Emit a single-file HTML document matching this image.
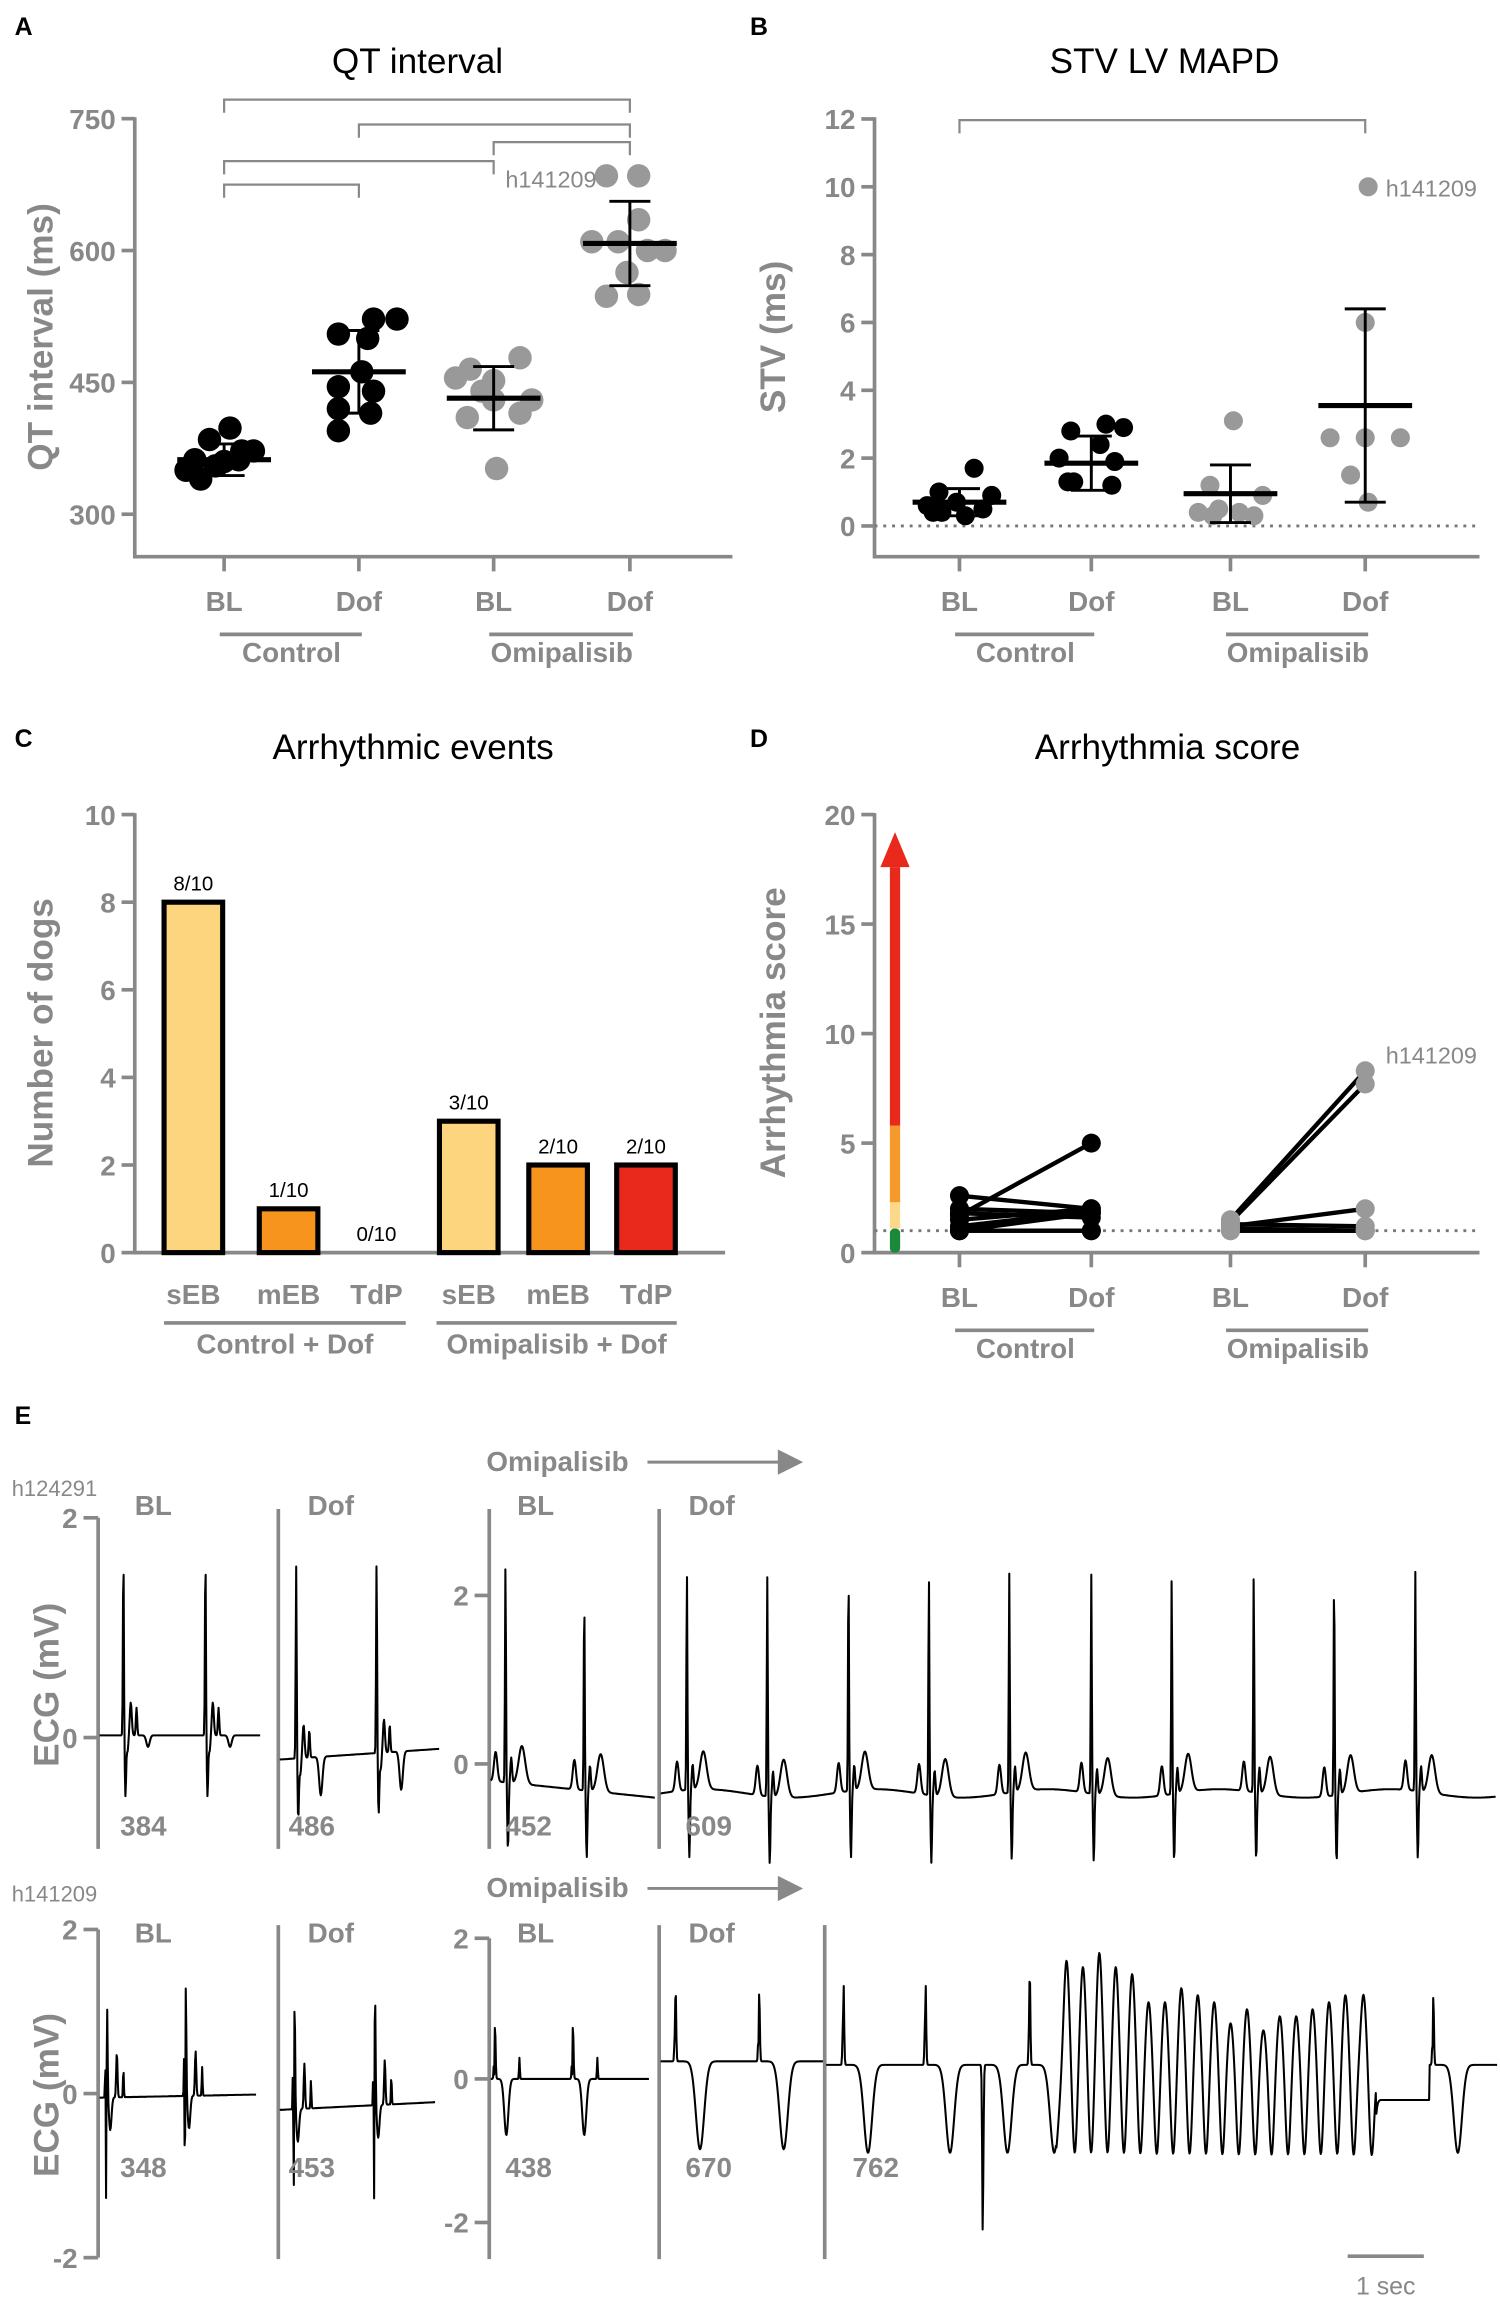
<!DOCTYPE html>
<html><head><meta charset="utf-8"><style>
html,body{margin:0;padding:0;background:#fff}
svg{display:block}
text{font-family:"Liberation Sans",Arial,sans-serif}
.tk{fill:#888;font-weight:bold;font-size:19px}
.ax{stroke:#888;stroke-width:2.5;fill:none}
.yl{fill:#888;font-weight:bold;font-size:24px}
.tt{fill:#000;font-size:24px}
.pl{fill:#000;font-weight:bold;font-size:17px}
</style></head><body>
<svg id="fig" width="1500" height="2306" viewBox="0 0 1024 1574" preserveAspectRatio="none" xmlns="http://www.w3.org/2000/svg">
<g>
<text class="pl" x="10" y="24">A</text><text class="pl" x="512" y="24">B</text>
<text class="pl" x="10" y="510">C</text><text class="pl" x="512" y="510">D</text>
<text class="pl" x="10" y="972">E</text>
</g>
<text class="tt" x="285" y="50" text-anchor="middle">QT interval</text>
<text class="tt" x="795" y="50" text-anchor="middle">STV LV MAPD</text>
<text class="tt" x="282" y="518" text-anchor="middle">Arrhythmic events</text>
<text class="tt" x="797" y="518" text-anchor="middle">Arrhythmia score</text>
<text class="yl" transform="translate(36,230) rotate(-90)" text-anchor="middle">QT interval (ms)</text>
<text class="yl" transform="translate(536,230) rotate(-90)" text-anchor="middle">STV (ms)</text>
<text class="yl" transform="translate(36,705) rotate(-90)" text-anchor="middle">Number of dogs</text>
<text class="yl" transform="translate(536,705) rotate(-90)" text-anchor="middle">Arrhythmia score</text>
<g id="A"></g>
<g id="B"></g>
<g id="C"></g>
<g id="D"></g>
<g id="E"></g>
</svg>
<script>
// ---- data ----
const groupTicks=['BL','Dof','BL','Dof'];
const groupNames=['Control','Omipalisib'];
const qtTicks=[300,450,600,750];
const qtCtrlBL=[398,385,372,362,362,355,372,350,340,360];
const qtCtrlDof=[522,522,505,500,462,445,440,420,415,395];
const qtOmiBL=[478,465,452,455,440,430,430,415,410,352];
const qtOmiDof=[685,685,635,610,610,600,600,575,548,550];
const qtMean=[362,462,432,608];
const qtSD=[18,47,36,48];
const stvTicks=[0,2,4,6,8,10,12];
const stvCtrlBL=[1.7,1.0,0.9,0.7,0.6,0.5,0.4,0.3,0.4];
const stvCtrlDof=[3.0,2.8,2.9,2.4,2.0,1.9,1.3,1.2,1.3];
const stvOmiBL=[3.1,1.2,0.9,0.5,0.4,0.3,0.3,0.4];
const stvOmiDof=[10,6.0,2.6,2.6,2.6,1.5,0.7];
const stvMean=[0.7,1.85,0.95,3.55];
const stvSD=[0.4,0.8,0.85,2.85];
const evTicks=[0,2,4,6,8,10];
const evCats=['sEB','mEB','TdP','sEB','mEB','TdP'];
const evValues=[8,1,0,3,2,2];
const evLabels=['8/10','1/10','0/10','3/10','2/10','2/10'];
const scTicks=[0,5,10,15,20];
const scCtrlBL=[2.6,2.0,1.7,1.5,1.2,1.0,1.0,1.0,1.8];
const scCtrlDof=[2.0,1.8,5.0,2.0,1.9,1.0,1.0,1.8,1.6];
const scOmiBL=[1.5,1.4,1.2,1.0,1.0,1.3,1.1];
const scOmiDof=[8.3,7.7,2.0,1.0,1.0,1.2,1.0];
// ECG beat times (s) and R amplitudes (mV)
const e1p1T=[0.29,1.29], e1p1R=[1.65,1.65];
const e1p2T=[0.2,1.18], e1p2R=[1.75,1.75];
const e1p3T=[0.18,1.14], e1p3R=[2.6,2.3];
const e1p4T=[0.32,1.30,2.29,3.27,4.25,5.25,6.23,7.23,8.21,9.2], e1p4R=[2.6,2.6,2.6,2.6,2.6,2.6,2.6,2.6,2.6,2.6];
const e2p1T=[0.09,1.05], e2p1R=[1.2,1.4];
const e2p2T=[0.18,1.16], e2p2R=[1.4,1.5];
const e2p3T=[0.05,1.0], e2p3R=[0.9,0.9];
const e2p4T=[0.18,1.2], e2p4R=[1.2,1.1];
const e2p5T=[0.21,1.21,2.48,7.4], e2p5R=[1.3,1.3,1.5,1.1];
const vtT=[2.93,3.13,3.33,3.53,3.73,3.93,4.13,4.33,4.53,4.73,4.93,5.13,5.33,5.53,5.73,5.93,6.13,6.33,6.55];
const vtR=[1.6,1.5,1.7,1.5,1.4,1.0,1.0,1.2,1.1,1.0,0.7,0.9,0.6,0.8,0.8,0.9,1.0,1.1,1.1];
const qtNumbers1=['384','486','452','609'], qtNumbers2=['348','453','438','670','762'];

const NS='http://www.w3.org/2000/svg';
function mk(parent,tag,attrs,txt){const e=document.createElementNS(NS,tag);for(const k in attrs)e.setAttribute(k,attrs[k]);if(txt!==undefined)e.textContent=txt;parent.appendChild(e);return e;}
const catX=[153,245,337,430], catXR=[655,745,840,932];

function axesFrame(g,x0,x1,yTop,yBot,ticks,yf,cx,withGroups){
  let e=mk(g,'path',{d:`M${x0},${yTop}V${yBot}H${x1}`,class:'ax'});
  
  ticks.forEach(v=>{const y=yf(v);mk(g,'line',{x1:x0-9,x2:x0,y1:y,y2:y,class:'ax'});
    const t=mk(g,'text',{x:x0-13,y:y+7,class:'tk','text-anchor':'end'},String(v));
    });
  if(withGroups){
    cx.forEach((x,i)=>{mk(g,'line',{x1:x,x2:x,y1:yBot,y2:yBot+10,class:'ax'});
      const t=mk(g,'text',{x:x,y:yBot+37,class:'tk','text-anchor':'middle'},groupTicks[i]);
      });
    [[cx[0],cx[1]],[cx[2],cx[3]]].forEach((p,i)=>{mk(g,'line',{x1:p[0]-3,x2:p[1]+2,y1:yBot+53,y2:yBot+53,class:'ax'});
      const t=mk(g,'text',{x:(p[0]+p[1])/2,y:yBot+72,class:'tk','text-anchor':'middle'},groupNames[i]);
      });
  }
}
function scatterGroup(g,vals,cx,yf,color,r,off){
  vals.forEach((v,i)=>{const c=mk(g,'circle',{cx:cx+off[i%off.length],cy:yf(v),r:r,fill:color});
    });
}
function errBar(g,cx,m,sd,yf,w){
  const s={stroke:'#000','stroke-width':2};
  mk(g,'line',Object.assign({x1:cx-w,x2:cx+w,y1:yf(m),y2:yf(m)},{stroke:'#000','stroke-width':3.5}));
  mk(g,'line',Object.assign({x1:cx,x2:cx,y1:yf(m+sd),y2:yf(m-sd)},s));
  mk(g,'line',Object.assign({x1:cx-14,x2:cx+14,y1:yf(m+sd),y2:yf(m+sd)},s));
  mk(g,'line',Object.assign({x1:cx-14,x2:cx+14,y1:yf(m-sd),y2:yf(m-sd)},s));
}
// ---- A ----
(function(){const g=document.getElementById('A');const yf=v=>81+(750-v)*0.6;
 axesFrame(g,92,500,80,380,qtTicks,yf,catX,true);
 [[153,430,68],[245,430,85],[337,430,97],[153,337,110],[153,245,126]].forEach(b=>{
  const e=mk(g,'path',{d:`M${b[0]},${b[2]+9}V${b[2]}H${b[1]}V${b[2]+9}`,fill:'none',stroke:'#888','stroke-width':1.5});
  });
 const sets=[qtCtrlBL,qtCtrlDof,qtOmiBL,qtOmiDof],cols=['#000','#000','#999','#999'];
 const offs=[[4,-10,12,-20,10,-6,20,-26,-16,0],[10,26,-14,6,2,-14,10,-14,8,-14],[18,-16,0,-26,-8,26,0,18,-18,2],[-16,6,6,-26,-8,24,12,-2,-16,6]];
 sets.forEach((s,i)=>scatterGroup(g,s,catX[i],yf,cols[i],8,offs[i]));
 sets.forEach((s,i)=>errBar(g,catX[i],qtMean[i],qtSD[i],yf,32));
 const t=mk(g,'text',{x:345,y:128,fill:'#888','font-size':16},'h141209');
})();
// ---- B ----
(function(){const g=document.getElementById('B');const yf=v=>359-v*23.15;
 axesFrame(g,597,1010,80,380,stvTicks,yf,catXR,true);
 mk(g,'line',{x1:597,x2:1010,y1:yf(0),y2:yf(0),stroke:'#777','stroke-width':2,'stroke-dasharray':'2 4'});
 const br=mk(g,'path',{d:`M655,91V82H932V91`,fill:'none',stroke:'#888','stroke-width':1.5});
 const sets=[stvCtrlBL,stvCtrlDof,stvOmiBL,stvOmiDof],cols=['#000','#000','#999','#999'];
 const offs=[[10,-14,22,-2,-22,16,-12,4,-18],[10,-14,22,6,-22,16,-12,14,-16],[2,-14,22,-8,-22,16,-12,6],[2,0,-24,0,24,-10,2]];
 sets.forEach((s,i)=>scatterGroup(g,s,catXR[i],yf,cols[i],6.5,offs[i]));
 sets.forEach((s,i)=>errBar(g,catXR[i],stvMean[i],stvSD[i],yf,32));
 const t=mk(g,'text',{x:946,y:134,fill:'#888','font-size':16},'h141209');
})();
// ---- C ----
(function(){const g=document.getElementById('C');const yf=v=>855-v*29.9;
 axesFrame(g,92,495,555,855,evTicks,yf,[],false);
 const cx=[132,197,257,320,381,441],colors=['#fdd57e','#f7941d','#e8291c','#fdd57e','#f7941d','#e8291c'];
 evValues.forEach((v,i)=>{
  if(v>0){const r=mk(g,'rect',{x:cx[i]-20,y:yf(v),width:40,height:yf(0)-yf(v),fill:colors[i],stroke:'#000','stroke-width':3.5});
   }
  const l=mk(g,'text',{x:cx[i],y:yf(v)-8,'font-size':14,'text-anchor':'middle',fill:'#000'},evLabels[i]);
  
  const t=mk(g,'text',{x:cx[i],y:890,class:'tk','text-anchor':'middle'},evCats[i]);
  });
 [[112,277,'Control + Dof'],[298,462,'Omipalisib + Dof']].forEach(p=>{mk(g,'line',{x1:p[0],x2:p[1],y1:903,y2:903,class:'ax'});
  const t=mk(g,'text',{x:(p[0]+p[1])/2,y:924,class:'tk','text-anchor':'middle'},p[2]);});
})();
// ---- D ----
(function(){const g=document.getElementById('D');const yf=v=>855-v*14.95;
 axesFrame(g,597,1010,555,855,scTicks,yf,catXR,true);
 mk(g,'line',{x1:597,x2:1010,y1:yf(1),y2:yf(1),stroke:'#777','stroke-width':2,'stroke-dasharray':'2 4'});
 const ax=611,w=7;
 [[0,1.1,'#1a8a3a'],[1.1,2.3,'#fcd98a'],[2.3,5.8,'#f59a2a'],[5.8,17.6,'#e8291c']].forEach(s=>{
  const r=mk(g,'rect',{x:ax-w/2,y:yf(s[1]),width:w,height:yf(s[0])-yf(s[1]),fill:s[2],rx:s[0]===0?3:0});});
 const ah=mk(g,'path',{d:`M${ax-10},${yf(17.6)}L${ax},${yf(19.2)}L${ax+10},${yf(17.6)}Z`,fill:'#e8291c'});
 [[scCtrlBL,scCtrlDof,0,'#000'],[scOmiBL,scOmiDof,2,'#999']].forEach(p=>{
  p[0].forEach((v,i)=>{const l=mk(g,'line',{x1:catXR[p[2]],x2:catXR[p[2]+1],y1:yf(v),y2:yf(p[1][i]),stroke:'#000','stroke-width':3});});
  p[0].forEach(v=>{const c=mk(g,'circle',{cx:catXR[p[2]],cy:yf(v),r:6.5,fill:p[3]});});
  p[1].forEach(v=>{const c=mk(g,'circle',{cx:catXR[p[2]+1],cy:yf(v),r:6.5,fill:p[3]});});
 });
 const t=mk(g,'text',{x:946,y:726,fill:'#888','font-size':16},'h141209');
})();
// ---- E ----
(function(){const g=document.getElementById('E');const PXS=56;
 const gs=(x,w)=>Math.exp(-(x*x)/(2*w*w));
 function beatV(kind,b,u){
  if(kind===1)return b.r*gs(u,0.006)-0.55*gs(u-0.025,0.008)+0.3*gs(u-0.09,0.012)+0.25*gs(u-0.16,0.008)-0.15*gs(u-0.05,0.01)-0.35*gs(u-0.3,0.02)*(b.r>1.7?1:0.3);
  if(kind===2)return b.r*gs(u,0.006)-0.8*gs(u-0.03,0.008)+0.45*gs(u-0.2,0.04)+0.35*gs(u+0.12,0.02)+0.3*gs(u-0.07,0.01);
  if(kind===3)return 0.5*gs(u+0.02,0.004)-1.7*gs(u+0.01,0.004)+b.r*gs(u,0.007)-0.4*gs(u-0.04,0.015)+0.55*gs(u-0.12,0.008)+0.35*gs(u-0.2,0.005);
  if(kind===4)return -0.7*gs(u+0.005,0.003)+b.r*gs(u,0.008)-0.8*gs(u-0.14,0.025)+0.3*gs(u-0.3,0.005);
  if(kind===5)return -0.6*gs(u+0.005,0.003)+b.r*gs(u,0.008)-1.25*gs(u-0.3,0.05);
  if(kind===6)return b.r*gs(u,0.035)-1.2*gs(u-0.1,0.03);
  return 0;
 }
 function trace(x0,x1,y0,ppm,base,beats,kind,name){
  let d='';
  for(let x=x0;x<=x1;x+=0.4){const t=(x-x0)/PXS;let v=base(t);
   beats.forEach(b=>{const u=t-b.t;if(Math.abs(u)>0.7)return;v+=beatV(b.k||kind,b,u);});
   d+=(d?'L':'M')+x.toFixed(1)+','+(y0-v*ppm).toFixed(1);}
  const p=mk(g,'path',{d:d,fill:'none',stroke:'#000','stroke-width':1.4,'stroke-linejoin':'round'});
  
 }
 const zip=(T,R,k)=>T.map((t,i)=>({t:t,r:R[i],k:k}));
 function vAxis(x,yTop,yBot,ticks){
  mk(g,'line',{x1:x,x2:x,y1:yTop,y2:yBot,class:'ax'});
  ticks.forEach(tk=>{mk(g,'line',{x1:x-10,x2:x,y1:tk[1],y2:tk[1],class:'ax'});
   const t=mk(g,'text',{x:x-14,y:tk[1]+7,class:'tk','text-anchor':'end'},tk[0]);});
 }
 function sep(x,yTop,yBot){const l=mk(g,'line',{x1:x,x2:x,y1:yTop,y2:yBot,class:'ax'});}
 function lab(x,y,s,name,size){const t=mk(g,'text',{x:x,y:y,fill:'#888','font-weight':'bold','font-size':size||19},s);return t;}
 // row 1
 lab(8,1021,'h124291','dog-id-label',15).setAttribute('font-weight','normal');
 lab(332,1004,'Omipalisib','treatment-label');
 let a=mk(g,'path',{d:'M442,998H540M532,991L546,998L532,1005Z',stroke:'#888','stroke-width':2,fill:'#888'});
 lab(92,1034,'BL','condition-label');lab(210,1034,'Dof','condition-label');lab(353,1034,'BL','condition-label');lab(470,1034,'Dof','condition-label');
 vAxis(67,1036,1262,[['2',1036],['0',1186]]);sep(190,1030,1262);vAxis(334,1030,1262,[['2',1089],['0',1204]]);sep(450,1030,1262);
 const yl1=mk(g,'text',{class:'yl',transform:'translate(40,1150) rotate(-90)','text-anchor':'middle'},'ECG (mV)');
 trace(68,178,1186,75,t=>0.02,zip(e1p1T,e1p1R),1,'ecg-trace-bl');
 trace(191,300,1186,75,t=>-0.2+0.05*t,zip(e1p2T,e1p2R),1,'ecg-trace-dof');
 trace(335,447,1204,57.5,t=>-0.2-0.1*t,zip(e1p3T,e1p3R),2,'ecg-trace-omi-bl');
 trace(451,1021,1204,57.5,t=>-0.35+0.05*Math.sin(t*3),zip(e1p4T,e1p4R),2,'ecg-trace-omi-dof');
 [[82,qtNumbers1[0]],[197,qtNumbers1[1]],[345,qtNumbers1[2]],[468,qtNumbers1[3]]].forEach(n=>lab(n[0],1253,n[1],'qt-value-label'));
 // row 2
 lab(8,1298,'h141209','dog-id-label',15).setAttribute('font-weight','normal');
 lab(332,1295,'Omipalisib','treatment-label');
 a=mk(g,'path',{d:'M442,1289H540M532,1282L546,1289L532,1296Z',stroke:'#888','stroke-width':2,fill:'#888'});
 lab(92,1326,'BL','condition-label');lab(210,1326,'Dof','condition-label');lab(353,1326,'BL','condition-label');lab(470,1326,'Dof','condition-label');
 vAxis(67,1317,1541,[['2',1317],['0',1429],['-2',1541]]);sep(190,1314,1542);vAxis(334,1323,1542,[['2',1323],['0',1419],['-2',1517]]);sep(450,1314,1542);sep(563,1314,1542);
 const yl2=mk(g,'text',{class:'yl',transform:'translate(40,1430) rotate(-90)','text-anchor':'middle'},'ECG (mV)');
 trace(68,175,1429,55.8,t=>-0.05+0.02*t,zip(e2p1T,e2p1R),3,'ecg-trace-bl');
 trace(191,297,1429,55.8,t=>-0.2+0.05*t,zip(e2p2T,e2p2R),3,'ecg-trace-dof');
 trace(335,443,1419,48,t=>0,zip(e2p3T,e2p3R),4,'ecg-trace-omi-bl');
 trace(451,562,1419,48,t=>0.25,zip(e2p4T,e2p4R),5,'ecg-trace-omi-dof');
 trace(564,1022,1419,48,t=>(t>6.7&&t<7.35)?-0.3:(t>2.8&&t<6.7?0.1:0.2),zip(e2p5T,e2p5R,5).concat([{t:1.91,r:-2.0,k:5}]).concat(zip(vtT,vtR,6)),5,'ecg-trace-omi-dof-tdp');
 [[82,qtNumbers2[0]],[197,qtNumbers2[1]],[345,qtNumbers2[2]],[468,qtNumbers2[3]],[582,qtNumbers2[4]]].forEach(n=>lab(n[0],1486,n[1],'qt-value-label'));
 const sb=mk(g,'line',{x1:920,x2:972,y1:1540,y2:1540,class:'ax'});
 const st=mk(g,'text',{x:946,y:1566,fill:'#888','font-size':17,'text-anchor':'middle'},'1 sec');
})();
</script>
</body></html>
